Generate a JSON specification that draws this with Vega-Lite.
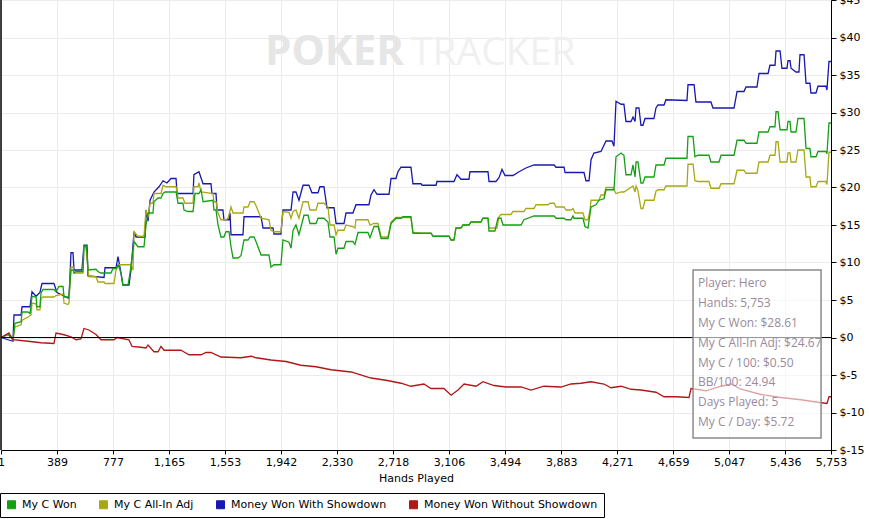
{
  "$schema": "https://vega.github.io/schema/vega-lite/v6.json",
  "width": 830,
  "height": 450,
  "autosize": {"type": "none"},
  "padding": {"left": 1, "top": 0, "right": 38, "bottom": 69},
  "background": "white",
  "data": {"values": [{}]},
  "config": {
    "view": {"stroke": null},
    "axis": {
      "gridColor": "#ebebeb",
      "gridWidth": 1,
      "domainColor": "black",
      "domainWidth": 1,
      "tickColor": "black",
      "labelFont": "DejaVu Sans",
      "labelFontSize": 11,
      "labelColor": "black",
      "titleFont": "DejaVu Sans",
      "titleFontSize": 11,
      "titleFontWeight": "normal",
      "titleColor": "black"
    },
    "legend": {
      "labelFont": "DejaVu Sans",
      "labelFontSize": 11,
      "labelColor": "black"
    }
  },
  "datasets": {
    "sd": [
      {"h":1,"v":0},{"h":50,"v":-0.3},{"h":84,"v":-0.5},{"h":91,"v":3.0},{"h":140,"v":3.0},{"h":147,"v":4.1},{"h":202,"v":4.1},{"h":216,"v":6.1},{"h":244,"v":5.5},{"h":271,"v":6.0},{"h":285,"v":7.2},{"h":368,"v":7.2},{"h":389,"v":6.0},{"h":431,"v":5.6},{"h":472,"v":5.2},{"h":486,"v":11.3},{"h":500,"v":11.3},{"h":507,"v":9.0},{"h":562,"v":9.0},{"h":576,"v":12.3},{"h":597,"v":12.3},{"h":604,"v":8.2},{"h":715,"v":8.0},{"h":722,"v":9.3},{"h":798,"v":9.3},{"h":812,"v":10.8},{"h":826,"v":9.3},{"h":846,"v":7.0},{"h":888,"v":7.0},{"h":902,"v":9.0},{"h":923,"v":14.1},{"h":937,"v":13.4},{"h":999,"v":13.4},{"h":1006,"v":17.0},{"h":1020,"v":15.5},{"h":1034,"v":18.3},{"h":1061,"v":19.4},{"h":1096,"v":20.1},{"h":1124,"v":20.9},{"h":1151,"v":20.6},{"h":1179,"v":21.2},{"h":1214,"v":21.2},{"h":1221,"v":19.2},{"h":1332,"v":19.2},{"h":1338,"v":21.7},{"h":1373,"v":22.1},{"h":1401,"v":20.5},{"h":1456,"v":20.5},{"h":1463,"v":19.2},{"h":1491,"v":19.2},{"h":1498,"v":17.0},{"h":1539,"v":17.0},{"h":1546,"v":15.7},{"h":1581,"v":15.7},{"h":1588,"v":16.6},{"h":1595,"v":13.7},{"h":1678,"v":13.7},{"h":1685,"v":16.1},{"h":1803,"v":16.1},{"h":1817,"v":14.6},{"h":1886,"v":14.6},{"h":1893,"v":13.8},{"h":1941,"v":13.8},{"h":1955,"v":17.0},{"h":2011,"v":17.0},{"h":2025,"v":19.4},{"h":2045,"v":19.4},{"h":2066,"v":18.3},{"h":2094,"v":20.3},{"h":2135,"v":20.3},{"h":2156,"v":19.3},{"h":2198,"v":19.3},{"h":2211,"v":20.1},{"h":2239,"v":20.1},{"h":2260,"v":17.3},{"h":2309,"v":17.3},{"h":2323,"v":15.2},{"h":2378,"v":15.2},{"h":2392,"v":16.6},{"h":2440,"v":16.6},{"h":2461,"v":17.7},{"h":2551,"v":17.7},{"h":2565,"v":19.0},{"h":2586,"v":19.7},{"h":2607,"v":19.1},{"h":2690,"v":19.1},{"h":2704,"v":21.2},{"h":2738,"v":21.2},{"h":2752,"v":22.1},{"h":2773,"v":22.7},{"h":2842,"v":22.7},{"h":2856,"v":20.5},{"h":2912,"v":20.5},{"h":2919,"v":20.3},{"h":3016,"v":20.3},{"h":3022,"v":20.8},{"h":3140,"v":20.8},{"h":3161,"v":21.7},{"h":3189,"v":21.1},{"h":3244,"v":21.1},{"h":3251,"v":22.1},{"h":3376,"v":22.1},{"h":3383,"v":20.8},{"h":3431,"v":20.8},{"h":3452,"v":21.3},{"h":3473,"v":22.4},{"h":3494,"v":21.6},{"h":3549,"v":21.6},{"h":3591,"v":22.1},{"h":3639,"v":22.6},{"h":3695,"v":23.0},{"h":3834,"v":23.0},{"h":3847,"v":22.7},{"h":3903,"v":22.7},{"h":3910,"v":22.0},{"h":4041,"v":22.0},{"h":4055,"v":20.9},{"h":4076,"v":20.9},{"h":4090,"v":23.7},{"h":4110,"v":24.6},{"h":4159,"v":24.8},{"h":4194,"v":26.2},{"h":4235,"v":26.2},{"h":4249,"v":25.5},{"h":4263,"v":31.5},{"h":4298,"v":31.1},{"h":4318,"v":31.1},{"h":4332,"v":28.8},{"h":4367,"v":28.8},{"h":4381,"v":29.4},{"h":4395,"v":28.8},{"h":4402,"v":30.6},{"h":4422,"v":30.6},{"h":4436,"v":28.3},{"h":4450,"v":28.3},{"h":4464,"v":29.2},{"h":4526,"v":29.2},{"h":4540,"v":30.6},{"h":4554,"v":31.0},{"h":4596,"v":31.0},{"h":4609,"v":31.7},{"h":4755,"v":31.6},{"h":4762,"v":33.7},{"h":4804,"v":33.7},{"h":4817,"v":31.4},{"h":4921,"v":31.4},{"h":4935,"v":30.6},{"h":5081,"v":30.6},{"h":5102,"v":32.8},{"h":5150,"v":32.8},{"h":5164,"v":33.4},{"h":5240,"v":33.4},{"h":5254,"v":35.2},{"h":5317,"v":35.2},{"h":5330,"v":36.3},{"h":5365,"v":36.3},{"h":5372,"v":38.2},{"h":5400,"v":38.2},{"h":5413,"v":35.9},{"h":5448,"v":35.9},{"h":5455,"v":36.9},{"h":5469,"v":36.9},{"h":5476,"v":35.9},{"h":5510,"v":35.4},{"h":5531,"v":35.4},{"h":5538,"v":37.7},{"h":5566,"v":37.7},{"h":5580,"v":33.9},{"h":5607,"v":33.9},{"h":5614,"v":32.6},{"h":5649,"v":32.6},{"h":5663,"v":33.5},{"h":5718,"v":33.5},{"h":5725,"v":33.0},{"h":5739,"v":36.8},{"h":5753,"v":36.8}
    ],
    "adj": [
      {"h":1,"v":0},{"h":56,"v":0.4},{"h":70,"v":0},{"h":84,"v":-0.3},{"h":98,"v":1.4},{"h":140,"v":1.7},{"h":147,"v":2.3},{"h":195,"v":2.8},{"h":209,"v":3.0},{"h":216,"v":4.6},{"h":244,"v":4.5},{"h":250,"v":3.7},{"h":271,"v":3.7},{"h":278,"v":5.2},{"h":292,"v":5.4},{"h":368,"v":5.4},{"h":382,"v":5.6},{"h":431,"v":5.8},{"h":438,"v":4.6},{"h":465,"v":4.4},{"h":472,"v":4.6},{"h":486,"v":9.4},{"h":500,"v":9.4},{"h":507,"v":8.6},{"h":569,"v":8.6},{"h":576,"v":12.1},{"h":590,"v":12.1},{"h":604,"v":9.0},{"h":611,"v":8.1},{"h":659,"v":8.1},{"h":673,"v":7.4},{"h":715,"v":7.4},{"h":722,"v":7.2},{"h":784,"v":7.2},{"h":798,"v":9.0},{"h":819,"v":9.7},{"h":902,"v":9.7},{"h":916,"v":9.0},{"h":923,"v":14.1},{"h":950,"v":13.5},{"h":992,"v":13.5},{"h":1006,"v":17.0},{"h":1020,"v":16.0},{"h":1034,"v":17.9},{"h":1054,"v":17.9},{"h":1061,"v":19.2},{"h":1110,"v":19.2},{"h":1124,"v":20.3},{"h":1144,"v":20.1},{"h":1214,"v":20.1},{"h":1228,"v":18.6},{"h":1262,"v":18.6},{"h":1276,"v":17.9},{"h":1332,"v":17.9},{"h":1338,"v":20.1},{"h":1366,"v":20.1},{"h":1373,"v":20.6},{"h":1387,"v":19.4},{"h":1470,"v":19.2},{"h":1477,"v":18.1},{"h":1491,"v":18.1},{"h":1505,"v":16.6},{"h":1525,"v":15.7},{"h":1560,"v":15.7},{"h":1574,"v":15.9},{"h":1595,"v":17.4},{"h":1609,"v":16.6},{"h":1678,"v":16.6},{"h":1685,"v":17.4},{"h":1713,"v":17.4},{"h":1727,"v":18.1},{"h":1754,"v":18.1},{"h":1768,"v":17.6},{"h":1803,"v":15.9},{"h":1858,"v":15.7},{"h":1872,"v":14.3},{"h":1893,"v":14.1},{"h":1941,"v":14.1},{"h":1955,"v":16.8},{"h":1997,"v":16.7},{"h":2011,"v":15.9},{"h":2025,"v":16.8},{"h":2045,"v":17.0},{"h":2066,"v":15.9},{"h":2094,"v":18.1},{"h":2129,"v":18.1},{"h":2142,"v":17.0},{"h":2184,"v":17.0},{"h":2198,"v":17.9},{"h":2239,"v":17.9},{"h":2267,"v":17.4},{"h":2281,"v":15.0},{"h":2309,"v":15.0},{"h":2323,"v":13.7},{"h":2336,"v":14.3},{"h":2378,"v":14.3},{"h":2392,"v":15.0},{"h":2440,"v":14.8},{"h":2454,"v":14.6},{"h":2461,"v":15.7},{"h":2544,"v":15.7},{"h":2558,"v":15.0},{"h":2586,"v":15.2},{"h":2614,"v":15.2},{"h":2635,"v":13.4},{"h":2683,"v":13.4},{"h":2704,"v":15.4},{"h":2738,"v":16.0},{"h":2842,"v":16.0},{"h":2856,"v":14.0},{"h":2919,"v":13.9},{"h":2981,"v":13.9},{"h":2995,"v":13.5},{"h":3106,"v":13.5},{"h":3120,"v":13.0},{"h":3140,"v":13.0},{"h":3154,"v":14.6},{"h":3189,"v":14.6},{"h":3203,"v":15.0},{"h":3244,"v":15.0},{"h":3258,"v":15.4},{"h":3327,"v":15.4},{"h":3341,"v":15.9},{"h":3376,"v":15.9},{"h":3383,"v":14.6},{"h":3438,"v":14.6},{"h":3452,"v":16.1},{"h":3466,"v":16.4},{"h":3535,"v":16.4},{"h":3549,"v":16.8},{"h":3625,"v":16.8},{"h":3639,"v":17.2},{"h":3695,"v":17.2},{"h":3709,"v":17.7},{"h":3792,"v":17.7},{"h":3806,"v":17.9},{"h":3834,"v":17.9},{"h":3847,"v":17.4},{"h":3903,"v":17.4},{"h":3917,"v":17.0},{"h":3951,"v":17.0},{"h":3965,"v":17.2},{"h":3979,"v":16.6},{"h":4034,"v":16.6},{"h":4048,"v":15.7},{"h":4069,"v":15.7},{"h":4083,"v":17.0},{"h":4090,"v":18.3},{"h":4145,"v":18.3},{"h":4159,"v":19.0},{"h":4180,"v":19.0},{"h":4194,"v":20.0},{"h":4242,"v":20.0},{"h":4249,"v":19.7},{"h":4263,"v":19.2},{"h":4298,"v":19.4},{"h":4318,"v":19.4},{"h":4381,"v":20.2},{"h":4395,"v":19.4},{"h":4402,"v":20.2},{"h":4415,"v":19.6},{"h":4436,"v":17.2},{"h":4450,"v":17.2},{"h":4464,"v":18.3},{"h":4526,"v":18.3},{"h":4540,"v":19.5},{"h":4554,"v":19.7},{"h":4596,"v":19.7},{"h":4609,"v":20.2},{"h":4755,"v":20.2},{"h":4762,"v":23.1},{"h":4797,"v":23.1},{"h":4810,"v":20.9},{"h":4831,"v":20.8},{"h":4907,"v":20.8},{"h":4921,"v":19.9},{"h":4977,"v":19.9},{"h":4991,"v":20.5},{"h":5081,"v":20.5},{"h":5102,"v":22.3},{"h":5150,"v":22.3},{"h":5164,"v":21.9},{"h":5240,"v":21.9},{"h":5254,"v":23.4},{"h":5317,"v":23.4},{"h":5330,"v":24.3},{"h":5365,"v":24.3},{"h":5372,"v":26.1},{"h":5386,"v":26.1},{"h":5400,"v":23.4},{"h":5448,"v":23.4},{"h":5455,"v":24.6},{"h":5469,"v":24.6},{"h":5476,"v":23.4},{"h":5510,"v":23.4},{"h":5524,"v":25.0},{"h":5566,"v":25.0},{"h":5580,"v":21.4},{"h":5607,"v":21.4},{"h":5614,"v":20.1},{"h":5649,"v":20.1},{"h":5663,"v":20.8},{"h":5718,"v":20.8},{"h":5725,"v":20.4},{"h":5739,"v":24.7},{"h":5753,"v":24.7}
    ],
    "won": [
      {"h":1,"v":0},{"h":50,"v":0.4},{"h":70,"v":0},{"h":84,"v":-0.3},{"h":98,"v":1.9},{"h":140,"v":2.1},{"h":147,"v":3.4},{"h":188,"v":3.4},{"h":202,"v":3.2},{"h":216,"v":5.5},{"h":244,"v":5.4},{"h":250,"v":4.1},{"h":271,"v":4.1},{"h":278,"v":5.9},{"h":292,"v":6.4},{"h":368,"v":6.4},{"h":382,"v":6.1},{"h":403,"v":6.8},{"h":431,"v":6.8},{"h":438,"v":5.4},{"h":465,"v":5.4},{"h":472,"v":5.6},{"h":486,"v":9.0},{"h":500,"v":9.0},{"h":507,"v":8.6},{"h":521,"v":8.8},{"h":569,"v":8.8},{"h":576,"v":12.2},{"h":590,"v":12.2},{"h":597,"v":11.2},{"h":604,"v":9.0},{"h":659,"v":9.1},{"h":673,"v":8.8},{"h":694,"v":8.6},{"h":763,"v":8.6},{"h":777,"v":9.2},{"h":798,"v":9.2},{"h":812,"v":9.7},{"h":833,"v":8.6},{"h":846,"v":7.0},{"h":881,"v":7.0},{"h":895,"v":8.6},{"h":923,"v":12.8},{"h":950,"v":12.1},{"h":992,"v":12.1},{"h":1006,"v":15.0},{"h":1020,"v":16.6},{"h":1054,"v":16.6},{"h":1061,"v":18.1},{"h":1089,"v":18.6},{"h":1110,"v":18.6},{"h":1124,"v":19.2},{"h":1138,"v":19.4},{"h":1214,"v":19.4},{"h":1228,"v":17.9},{"h":1262,"v":17.9},{"h":1269,"v":17.0},{"h":1297,"v":16.8},{"h":1332,"v":16.8},{"h":1345,"v":19.2},{"h":1373,"v":19.2},{"h":1387,"v":19.7},{"h":1401,"v":18.1},{"h":1470,"v":18.3},{"h":1477,"v":17.0},{"h":1491,"v":17.0},{"h":1505,"v":15.0},{"h":1525,"v":13.4},{"h":1546,"v":13.4},{"h":1560,"v":14.1},{"h":1581,"v":14.1},{"h":1595,"v":12.1},{"h":1609,"v":10.6},{"h":1643,"v":10.6},{"h":1664,"v":10.9},{"h":1685,"v":13.0},{"h":1713,"v":13.0},{"h":1727,"v":13.4},{"h":1754,"v":13.4},{"h":1768,"v":12.8},{"h":1803,"v":11.0},{"h":1858,"v":11.0},{"h":1872,"v":9.4},{"h":1893,"v":9.7},{"h":1941,"v":9.7},{"h":1955,"v":13.0},{"h":1997,"v":12.7},{"h":2011,"v":11.9},{"h":2025,"v":14.3},{"h":2045,"v":15.0},{"h":2066,"v":13.7},{"h":2101,"v":16.3},{"h":2129,"v":16.3},{"h":2142,"v":15.2},{"h":2184,"v":15.2},{"h":2198,"v":15.9},{"h":2239,"v":15.9},{"h":2267,"v":15.4},{"h":2281,"v":13.4},{"h":2309,"v":13.4},{"h":2323,"v":11.1},{"h":2336,"v":11.9},{"h":2378,"v":11.9},{"h":2392,"v":12.8},{"h":2440,"v":12.8},{"h":2454,"v":12.4},{"h":2475,"v":14.0},{"h":2544,"v":14.0},{"h":2558,"v":13.3},{"h":2586,"v":14.8},{"h":2614,"v":14.8},{"h":2635,"v":13.2},{"h":2683,"v":13.2},{"h":2704,"v":15.2},{"h":2738,"v":15.9},{"h":2773,"v":15.9},{"h":2787,"v":16.1},{"h":2842,"v":16.1},{"h":2856,"v":13.9},{"h":2981,"v":13.9},{"h":2995,"v":13.5},{"h":3106,"v":13.5},{"h":3120,"v":13.0},{"h":3140,"v":13.0},{"h":3154,"v":14.6},{"h":3189,"v":14.6},{"h":3203,"v":15.0},{"h":3244,"v":15.0},{"h":3258,"v":15.4},{"h":3327,"v":15.4},{"h":3341,"v":15.9},{"h":3376,"v":15.9},{"h":3383,"v":14.2},{"h":3424,"v":14.2},{"h":3445,"v":15.9},{"h":3466,"v":15.9},{"h":3480,"v":15.0},{"h":3605,"v":15.0},{"h":3625,"v":15.7},{"h":3695,"v":16.2},{"h":3834,"v":16.2},{"h":3847,"v":15.9},{"h":3903,"v":15.9},{"h":3917,"v":15.7},{"h":3951,"v":15.7},{"h":3965,"v":16.2},{"h":3972,"v":15.9},{"h":4034,"v":15.9},{"h":4048,"v":14.8},{"h":4069,"v":14.6},{"h":4090,"v":17.4},{"h":4124,"v":17.7},{"h":4145,"v":18.3},{"h":4180,"v":18.5},{"h":4194,"v":19.7},{"h":4249,"v":19.7},{"h":4263,"v":24.1},{"h":4298,"v":24.6},{"h":4318,"v":24.3},{"h":4332,"v":21.7},{"h":4367,"v":21.7},{"h":4381,"v":23.0},{"h":4395,"v":21.4},{"h":4402,"v":23.4},{"h":4415,"v":23.4},{"h":4436,"v":20.6},{"h":4450,"v":20.6},{"h":4464,"v":21.4},{"h":4526,"v":21.4},{"h":4540,"v":23.0},{"h":4596,"v":23.0},{"h":4609,"v":23.9},{"h":4755,"v":23.9},{"h":4762,"v":26.8},{"h":4797,"v":26.8},{"h":4810,"v":24.1},{"h":4831,"v":24.3},{"h":4907,"v":24.3},{"h":4921,"v":23.4},{"h":4977,"v":23.4},{"h":4991,"v":24.3},{"h":5081,"v":24.3},{"h":5102,"v":26.3},{"h":5150,"v":26.3},{"h":5164,"v":25.9},{"h":5240,"v":25.9},{"h":5254,"v":27.4},{"h":5317,"v":27.4},{"h":5330,"v":28.1},{"h":5365,"v":28.1},{"h":5372,"v":30.1},{"h":5386,"v":30.1},{"h":5400,"v":27.7},{"h":5448,"v":27.7},{"h":5455,"v":28.8},{"h":5469,"v":28.8},{"h":5476,"v":27.4},{"h":5510,"v":27.4},{"h":5524,"v":29.2},{"h":5566,"v":29.2},{"h":5580,"v":25.2},{"h":5607,"v":25.2},{"h":5614,"v":24.1},{"h":5649,"v":24.1},{"h":5663,"v":24.8},{"h":5718,"v":24.8},{"h":5725,"v":24.5},{"h":5739,"v":28.6},{"h":5753,"v":28.6}
    ],
    "nsd": [
      {"h":1,"v":0},{"h":56,"v":0.6},{"h":84,"v":-0.3},{"h":188,"v":-0.5},{"h":278,"v":-0.7},{"h":368,"v":-0.8},{"h":382,"v":0.6},{"h":431,"v":0.4},{"h":486,"v":0.1},{"h":521,"v":-0.3},{"h":555,"v":-0.2},{"h":576,"v":1.2},{"h":611,"v":1.0},{"h":659,"v":0.4},{"h":694,"v":-0.3},{"h":784,"v":-0.3},{"h":805,"v":0},{"h":888,"v":-0.3},{"h":909,"v":-1.2},{"h":971,"v":-1.3},{"h":1006,"v":-1.4},{"h":1020,"v":-1.0},{"h":1061,"v":-1.9},{"h":1089,"v":-1.9},{"h":1110,"v":-1.2},{"h":1131,"v":-1.7},{"h":1248,"v":-1.7},{"h":1276,"v":-2.0},{"h":1304,"v":-2.3},{"h":1387,"v":-2.3},{"h":1422,"v":-2.0},{"h":1456,"v":-2.0},{"h":1525,"v":-2.6},{"h":1664,"v":-2.7},{"h":1734,"v":-2.5},{"h":1768,"v":-2.7},{"h":1872,"v":-3.0},{"h":1976,"v":-3.2},{"h":2080,"v":-3.7},{"h":2184,"v":-3.9},{"h":2288,"v":-4.3},{"h":2427,"v":-4.6},{"h":2565,"v":-5.4},{"h":2669,"v":-5.7},{"h":2773,"v":-6.1},{"h":2842,"v":-6.5},{"h":2932,"v":-6.2},{"h":2981,"v":-6.8},{"h":3071,"v":-6.8},{"h":3120,"v":-7.7},{"h":3168,"v":-7.0},{"h":3210,"v":-6.2},{"h":3293,"v":-6.5},{"h":3341,"v":-5.9},{"h":3417,"v":-6.4},{"h":3501,"v":-6.6},{"h":3605,"v":-6.6},{"h":3674,"v":-7.0},{"h":3764,"v":-6.5},{"h":3882,"v":-6.6},{"h":3951,"v":-6.2},{"h":4020,"v":-6.1},{"h":4090,"v":-5.9},{"h":4180,"v":-6.2},{"h":4228,"v":-6.7},{"h":4298,"v":-6.5},{"h":4367,"v":-6.9},{"h":4436,"v":-7.0},{"h":4540,"v":-7.3},{"h":4596,"v":-7.9},{"h":4679,"v":-7.9},{"h":4769,"v":-8.0},{"h":4783,"v":-6.8},{"h":4887,"v":-7.1},{"h":4991,"v":-6.5},{"h":5060,"v":-6.2},{"h":5129,"v":-6.9},{"h":5268,"v":-7.6},{"h":5406,"v":-8.0},{"h":5545,"v":-8.3},{"h":5649,"v":-8.6},{"h":5725,"v":-8.8},{"h":5739,"v":-7.9},{"h":5753,"v":-7.9}
    ]
  },
  "layer": [
    {
      "mark": {"type": "text", "text": "POKER", "align": "right", "baseline": "alphabetic", "font": "Open Sans", "fontWeight": "bold", "fontSize": 42, "color": "#e6e6e6"},
      "encoding": {
        "x": {
          "datum": 2794,
          "type": "quantitative",
          "scale": {"domain": [1, 5753], "nice": false, "zero": false},
          "axis": {
            "values": [1, 389, 777, 1165, 1553, 1942, 2330, 2718, 3106, 3494, 3883, 4271, 4659, 5047, 5436, 5753],
            "tickCount": 30,
            "format": ",d",
            "title": "Hands Played",
            "tickSize": 4,
            "labelPadding": 2,
            "titlePadding": 5,
            "labelFlush": false,
            "labelOverlap": false,
            "labelBound": false,
            "grid": true
          }
        },
        "y": {
          "datum": 36.3,
          "type": "quantitative",
          "scale": {"domain": [-15, 45], "nice": false, "zero": false},
          "axis": {
            "orient": "right",
            "values": [-15, -10, -5, 0, 5, 10, 15, 20, 25, 30, 35, 40, 45],
            "tickCount": 30,
            "labelExpr": "'$' + datum.value",
            "title": null,
            "tickSize": 5,
            "labelPadding": 3,
            "labelOverlap": false,
            "labelFlush": false,
            "labelBound": false,
            "grid": true
          }
        }
      }
    },
    {
      "mark": {"type": "text", "text": "TRACKER", "align": "left", "baseline": "alphabetic", "font": "Open Sans", "fontSize": 39, "color": "#f0f0f0"},
      "encoding": {"x": {"datum": 2842, "type": "quantitative"}, "y": {"datum": 36.3, "type": "quantitative"}}
    },
    {
      "data": {"name": "sd"},
      "mark": {"type": "line", "strokeWidth": 1.3},
      "encoding": {
        "x": {"field": "h", "type": "quantitative"},
        "y": {"field": "v", "type": "quantitative"},
        "color": {
          "datum": "Money Won With Showdown",
          "type": "nominal",
          "scale": {
            "domain": ["My C Won", "My C All-In Adj", "Money Won With Showdown", "Money Won Without Showdown"],
            "range": ["#14a014", "#a8a814", "#1818b0", "#b01818"]
          },
          "legend": {
            "title": null,
            "orient": "none",
            "legendX": -1,
            "legendY": 493,
            "direction": "horizontal",
            "columns": 4,
            "strokeColor": "black",
            "fillColor": "white",
            "padding": 6,
            "columnPadding": 20,
            "labelOffset": 5,
            "labelLimit": 300,
            "symbolType": "square",
            "symbolSize": 64,
            "symbolStrokeColor": "black",
            "symbolStrokeWidth": 1,
            "encode": {
              "symbols": {
                "update": {
                  "fill": {"scale": "color", "field": "value"},
                  "stroke": {"value": "black"},
                  "strokeWidth": {"value": 1},
                  "shape": {"value": "square"},
                  "opacity": {"value": 1}
                }
              }
            }
          }
        }
      }
    },
    {
      "data": {"name": "adj"},
      "mark": {"type": "line", "strokeWidth": 1.3},
      "encoding": {
        "x": {"field": "h", "type": "quantitative"},
        "y": {"field": "v", "type": "quantitative"},
        "color": {"datum": "My C All-In Adj", "type": "nominal"}
      }
    },
    {
      "data": {"name": "won"},
      "mark": {"type": "line", "strokeWidth": 1.3},
      "encoding": {
        "x": {"field": "h", "type": "quantitative"},
        "y": {"field": "v", "type": "quantitative"},
        "color": {"datum": "My C Won", "type": "nominal"}
      }
    },
    {
      "data": {"name": "nsd"},
      "mark": {"type": "line", "strokeWidth": 1.3},
      "encoding": {
        "x": {"field": "h", "type": "quantitative"},
        "y": {"field": "v", "type": "quantitative"},
        "color": {"datum": "Money Won Without Showdown", "type": "nominal"}
      }
    },
    {
      "mark": {"type": "rule", "color": "black", "strokeWidth": 1},
      "encoding": {"y": {"datum": 0, "type": "quantitative"}}
    },
    {
      "mark": {"type": "rule", "color": "black", "strokeWidth": 1.5},
      "encoding": {"x": {"datum": 1, "type": "quantitative"}}
    },
    {
      "mark": {"type": "rect", "fill": "white", "fillOpacity": 0.6, "stroke": "#8a8a8a", "strokeWidth": 1.5},
      "encoding": {
        "x": {"datum": 4797, "type": "quantitative"},
        "x2": {"datum": 5684},
        "y": {"datum": 9.0, "type": "quantitative"},
        "y2": {"datum": -13.4}
      }
    },
    {
      "mark": {
        "type": "text",
        "text": ["Player: Hero", "Hands: 5,753", "My C Won: $28.61", "My C All-In Adj: $24.67", "My C / 100: $0.50", "BB/100: 24.94", "Days Played: 5", "My C / Day: $5.72"],
        "align": "left",
        "baseline": "middle",
        "lineHeight": 19.9,
        "font": "Open Sans",
        "fontSize": 12,
        "color": "#9a8a9c"
      },
      "encoding": {"x": {"datum": 4831, "type": "quantitative"}, "y": {"datum": 7.27, "type": "quantitative"}}
    }
  ]
}
